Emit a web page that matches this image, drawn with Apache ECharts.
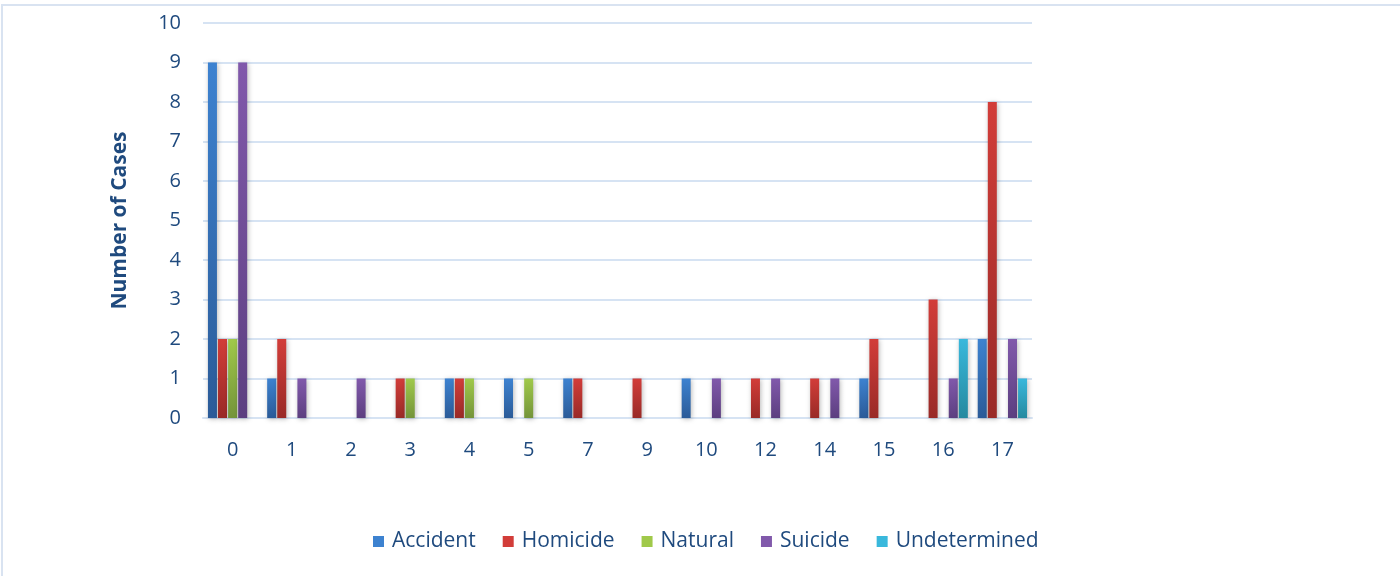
<!DOCTYPE html>
<html>
<head>
<meta charset="utf-8">
<script src="https://cdn.jsdelivr.net/npm/echarts@6/dist/echarts.min.js"></script>
<style>
html,body{margin:0;padding:0;background:#fff;}
#chart{width:1400px;height:576px;}
</style>
</head>
<body>
<div id="chart"></div>
<script>
const categories = ['0','1','2','3','4','5','7','9','10','12','14','15','16','17'];
const accident     = [9,1,0,0,1,1,1,0,1,0,0,1,0,2];
const homicide     = [2,2,0,1,1,0,1,1,0,1,1,2,3,8];
const natural      = [2,0,0,1,1,1,0,0,0,0,0,0,0,0];
const suicide      = [9,1,1,0,0,0,0,0,1,1,1,0,1,2];
const undetermined = [0,0,0,0,0,0,0,0,0,0,0,0,2,1];
const yTicks = {min:0, max:10, interval:1};

const textColor = '#1f4a7e';
const font = '"Open Sans", sans-serif';

function grad(top, bottom){
  return new echarts.graphic.LinearGradient(0,0,0,1,[{offset:0,color:top},{offset:1,color:bottom}]);
}
function nz(arr){ return arr.map(v => v === 0 ? null : v); }

const seriesDefs = [
  {name:'Accident', data:accident, c:['#3d82d0','#2b5b98']},
  {name:'Homicide', data:homicide, c:['#d23d39','#992a27']},
  {name:'Natural', data:natural, c:['#a0c94a','#74943a']},
  {name:'Suicide', data:suicide, c:['#8159ab','#5c3f80']},
  {name:'Undetermined', data:undetermined, c:['#39b8dc','#26899f']}
];

const chart = echarts.init(document.getElementById('chart'));
chart.setOption({
  animation:false,
  backgroundColor:'#fff',
  graphic:[{
    type:'rect', shape:{x:2, y:5, width:1500, height:700},
    style:{fill:'none', stroke:'#d9e3f1', lineWidth:2}, silent:true, z:-10
  }],
  legend:{
    left:368, top:526,
    itemWidth:11, itemHeight:11, itemGap:27,
    icon:'rect',
    textStyle:{color:textColor, fontSize:21, fontFamily:font, padding:[0,0,0,3]},
    data: seriesDefs.map((s)=>({name:s.name, itemStyle:{color:s.c[0]}}))
  },
  grid:{left:203, right:368, top:23, bottom:158, containLabel:false},
  xAxis:{
    type:'category', data:categories,
    axisLine:{show:true, lineStyle:{color:'#d6e3f3', width:2}},
    axisTick:{show:false},
    axisLabel:{color:textColor, fontSize:20, fontFamily:font, margin:22}
  },
  yAxis:{
    type:'value', min:yTicks.min, max:yTicks.max, interval:yTicks.interval,
    name:'Number of Cases', nameLocation:'middle', nameGap:72, nameRotate:90,
    nameTextStyle:{color:textColor, fontSize:21, fontWeight:'bold', fontFamily:font},
    axisLine:{show:false}, axisTick:{show:false},
    axisLabel:{color:textColor, fontSize:20, fontFamily:font, margin:22},
    splitLine:{lineStyle:{color:'#d6e3f3', width:2}}
  },
  series: seriesDefs.map(s => ({
    name:s.name, type:'bar', data:nz(s.data),
    barWidth:9, barGap:'12%',
    itemStyle:{color:grad(s.c[0], s.c[1]), shadowColor:'rgba(0,0,0,0.28)', shadowBlur:5, shadowOffsetX:1, shadowOffsetY:1}
  }))
});
</script>
</body>
</html>
